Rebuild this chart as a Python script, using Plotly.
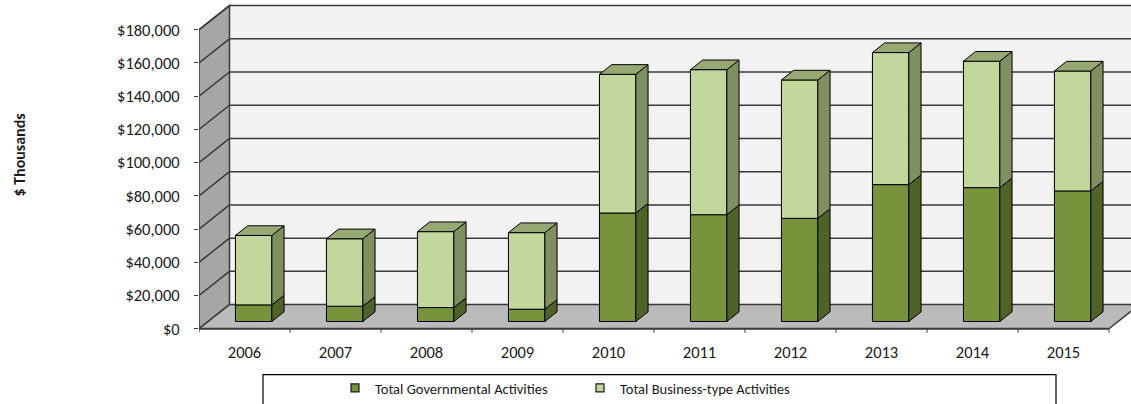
import plotly.graph_objects as go

# ---- data ($ thousands) ----
years = ["2006", "2007", "2008", "2009", "2010", "2011", "2012", "2013", "2014", "2015"]
governmental = [10000, 9200, 8400, 7400, 65300, 64300, 62100, 82400, 80600, 78600]
business_type = [41800, 40600, 45700, 46100, 83500, 87300, 83300, 79500, 76100, 72200]
value_ticks = [0, 20000, 40000, 60000, 80000, 100000, 120000, 140000, 160000, 180000]
value_tick_text = ["$0", "$20,000", "$40,000", "$60,000", "$80,000", "$100,000",
                   "$120,000", "$140,000", "$160,000", "$180,000"]
series_names = ["Total Governmental Activities", "Total Business-type Activities"]

# ---- styling ----
FONT = "Carlito, Lato, sans-serif"
GOV_FRONT, GOV_SIDE = "#77933C", "#4F6228"
BUS_FRONT, BUS_SIDE, BUS_TOP = "#C3D69B", "#7F8F60", "#97A873"
BACK_WALL, SIDE_WALL, FLOOR = "#F2F2F2", "#A6A6A6", "#BBBBBB"
GRID = "#3A3A3A"

# ---- canvas geometry ----
W, H = 1131, 404
M_L, M_R, M_T, M_B = 199, 0, 0, 66
plot_w = W - M_L - M_R
plot_h = H - M_T - M_B
PX_PER_CAT = 91.0
PX_PER_VAL = 1.676 / 1000.0          # pixels per unit on the value axis
FLOOR_PX = 331.7                      # pixel row of the front floor edge

x_range = [-0.5, -0.5 + plot_w / PX_PER_CAT]
y_range = [-(M_T + plot_h - FLOOR_PX) / PX_PER_VAL, (FLOOR_PX - M_T) / PX_PER_VAL]

# oblique depth of the box (back wall offset) in data units
DX = 30.5 / PX_PER_CAT
DY = 24.4 / PX_PER_VAL
F0, DEPTH = 0.30, 0.40                # bar front position and thickness (fraction of depth)
BAR_W = 0.40

n = len(years)
top_val = value_ticks[-1]
x_left, x_right = -0.5, n - 0.5
x_far = x_range[1] + 1.0


def px_to_paper_x(px):
    return (px - M_L) / plot_w


def px_to_paper_y(py):
    return (M_T + plot_h - py) / plot_h


shapes = []
# back wall
shapes.append(dict(type="rect", xref="x", yref="y", layer="below",
                   x0=x_left + DX, x1=x_far, y0=DY, y1=top_val + DY,
                   fillcolor=BACK_WALL, line=dict(width=0)))
# left wall
shapes.append(dict(type="path", xref="x", yref="y", layer="below",
                   path=f"M{x_left},0 L{x_left + DX},{DY} L{x_left + DX},{top_val + DY} "
                        f"L{x_left},{top_val} Z",
                   fillcolor=SIDE_WALL, line=dict(color=GRID, width=1.5)))
# floor
shapes.append(dict(type="path", xref="x", yref="y", layer="below",
                   path=f"M{x_left},0 L{x_right},0 L{x_right + DX},{DY} L{x_far},{DY} "
                        f"L{x_left + DX},{DY} Z",
                   fillcolor=FLOOR, line=dict(width=0)))
# gridlines on back and left walls
for v in value_ticks:
    shapes.append(dict(type="line", xref="x", yref="y", layer="below",
                       x0=x_left + DX, x1=x_far, y0=v + DY, y1=v + DY,
                       line=dict(color=GRID, width=1.5)))
    shapes.append(dict(type="line", xref="x", yref="y", layer="below",
                       x0=x_left, x1=x_left + DX, y0=v, y1=v + DY,
                       line=dict(color=GRID, width=1.5)))
# floor front and right edges
shapes.append(dict(type="line", xref="x", yref="y", layer="below",
                   x0=x_left, x1=x_right, y0=0, y1=0, line=dict(color=GRID, width=2)))
shapes.append(dict(type="line", xref="x", yref="y", layer="below",
                   x0=x_right, x1=x_right + DX, y0=0, y1=DY, line=dict(color=GRID, width=1.5)))
# category boundary ticks
for i in range(n + 1):
    shapes.append(dict(type="line", xref="x", yref="y", layer="below",
                       x0=i - 0.5, x1=i - 0.5, y0=0, y1=-4 / PX_PER_VAL,
                       line=dict(color=GRID, width=1)))
# legend frame
shapes.append(dict(type="rect", xref="paper", yref="paper",
                   x0=px_to_paper_x(263), x1=px_to_paper_x(1056),
                   y0=px_to_paper_y(420), y1=px_to_paper_y(378),
                   line=dict(color="black", width=1.2), fillcolor="rgba(0,0,0,0)"))

# ---- bars ----
centers = [i + F0 * DX for i in range(n)]
gov_base = [F0 * DY] * n
bus_base = [F0 * DY + g for g in governmental]

fig = go.Figure()
fig.add_trace(go.Bar(x=centers, y=governmental, base=gov_base, width=BAR_W,
                     name=series_names[0], showlegend=False,
                     marker=dict(color=GOV_FRONT, line=dict(color="black", width=1))))
fig.add_trace(go.Bar(x=centers, y=business_type, base=bus_base, width=BAR_W,
                     name=series_names[1], showlegend=False,
                     marker=dict(color=BUS_FRONT, line=dict(color="black", width=1))))


def side_faces(bases, heights):
    xs, ys = [], []
    for c, b, h in zip(centers, bases, heights):
        xr = c + BAR_W / 2
        xs += [xr, xr + DEPTH * DX, xr + DEPTH * DX, xr, xr, None]
        ys += [b, b + DEPTH * DY, b + h + DEPTH * DY, b + h, b, None]
    return xs, ys


def top_faces(bases, heights):
    xs, ys = [], []
    for c, b, h in zip(centers, bases, heights):
        xl, xr, t = c - BAR_W / 2, c + BAR_W / 2, b + h
        xs += [xl, xr, xr + DEPTH * DX, xl + DEPTH * DX, xl, None]
        ys += [t, t, t + DEPTH * DY, t + DEPTH * DY, t, None]
    return xs, ys


for (xs, ys), col in [(side_faces(gov_base, governmental), GOV_SIDE),
                      (side_faces(bus_base, business_type), BUS_SIDE),
                      (top_faces(bus_base, business_type), BUS_TOP)]:
    fig.add_trace(go.Scatter(x=xs, y=ys, mode="lines", fill="toself", fillcolor=col,
                             line=dict(color="black", width=1), showlegend=False,
                             hoverinfo="skip"))

# legend keys: small outlined squares
for name, col in zip(series_names, [GOV_FRONT, BUS_FRONT]):
    fig.add_trace(go.Scatter(x=[None], y=[None], mode="markers", name=name,
                             marker=dict(symbol="square", size=8, color=col,
                                         line=dict(color="#1A1A1A", width=1.2))))

fig.update_layout(
    width=W, height=H,
    margin=dict(l=M_L, r=M_R, t=M_T, b=M_B, pad=0),
    paper_bgcolor="white", plot_bgcolor="white",
    barmode="overlay",
    font=dict(family=FONT, size=16.5, color="#1A1A1A"),
    shapes=shapes,
    showlegend=True,
    legend=dict(orientation="h", x=px_to_paper_x(335), y=px_to_paper_y(392),
                xanchor="left", yanchor="middle", bgcolor="rgba(0,0,0,0)",
                font=dict(family=FONT, size=14.5), entrywidth=200, itemwidth=30,
                traceorder="normal"),
    xaxis=dict(range=x_range, tickmode="array", tickvals=list(range(n)), ticktext=years,
               showgrid=False, zeroline=False, showline=False, ticks="",
               fixedrange=True, ticklabelstandoff=5),
    yaxis=dict(range=y_range, tickmode="array", tickvals=value_ticks,
               ticktext=value_tick_text, showgrid=False, zeroline=False,
               showline=False, ticks="outside", ticklen=4, tickcolor=GRID,
               ticklabelstandoff=11, fixedrange=True),
    annotations=[dict(text="<b>$ Thousands</b>", textangle=-90, xref="paper", yref="paper",
                      x=px_to_paper_x(20), y=px_to_paper_y(157), xanchor="center",
                      yanchor="middle", showarrow=False,
                      font=dict(family=FONT, size=16, color="#1A1A1A"))],
)

fig.write_html("out.html")
